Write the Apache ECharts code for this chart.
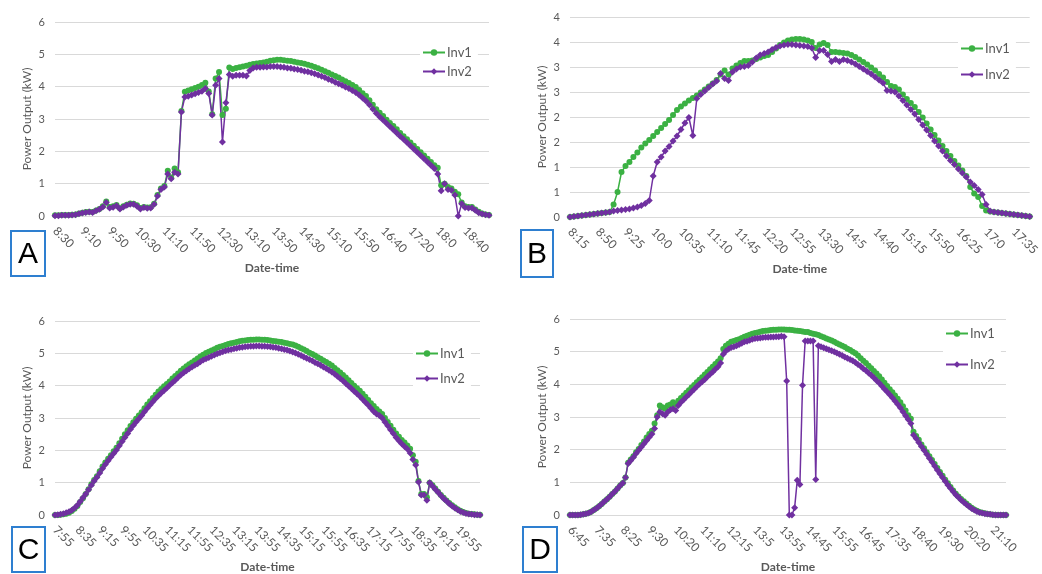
<!DOCTYPE html>
<html>
<head>
<meta charset="utf-8">
<script src="https://cdn.jsdelivr.net/npm/echarts@6/dist/echarts.min.js"></script>
<style>html,body{margin:0;padding:0;background:#fff}#c{width:1042px;height:574px}</style>
</head>
<body>
<div id="c"></div>
<script>
// ---------- tick labels (every N-th category is labelled) ----------
const ticksA = ['8:30','9:10','9:50','10:30','11:10','11:50','12:30','13:10','13:50','14:30','15:10','15:50','16:40','17:20','18:0','18:40'];
const ticksB = ['8:15','8:50','9:25','10:0','10:35','11:10','11:45','12:20','12:55','13:30','14:5','14:40','15:15','15:50','16:25','17:0','17:35'];
const ticksC = ['7:55','8:35','9:15','9:55','10:35','11:15','11:55','12:35','13:15','13:55','14:35','15:15','15:55','16:35','17:15','17:55','18:35','19:15','19:55'];
const ticksD = ['6:45','7:35','8:25','9:30','10:20','11:10','12:15','13:5','13:55','14:45','15:55','16:45','17:35','18:40','19:30','20:20','21:10'];

// ---------- series values (kW) ----------
const inv1A = [0.02,0.02,0.03,0.03,0.03,0.04,0.05,0.08,0.1,0.12,
0.13,0.12,0.17,0.22,0.3,0.45,0.28,0.3,0.34,0.24,
0.3,0.35,0.39,0.38,0.33,0.25,0.28,0.26,0.27,0.38,
0.65,0.85,0.93,1.4,1.18,1.47,1.35,3.25,3.84,3.88,
3.92,3.96,4.0,4.05,4.12,3.85,3.15,4.25,4.45,3.12,
3.32,4.59,4.55,4.58,4.6,4.62,4.65,4.68,4.7,4.72,
4.73,4.75,4.77,4.8,4.82,4.83,4.83,4.82,4.8,4.79,
4.77,4.75,4.73,4.71,4.68,4.65,4.61,4.57,4.52,4.48,
4.43,4.38,4.33,4.28,4.22,4.17,4.11,4.05,3.99,3.9,
3.8,3.71,3.58,3.44,3.3,3.19,3.09,2.98,2.88,2.78,
2.68,2.57,2.47,2.37,2.27,2.17,2.07,1.97,1.87,1.77,
1.67,1.57,1.49,0.95,1.0,0.9,0.85,0.75,0.67,0.42,
0.3,0.28,0.28,0.2,0.13,0.08,0.05,0.03];
const inv2A = [0.01,0.01,0.02,0.02,0.02,0.03,0.04,0.07,0.09,0.11,
0.12,0.11,0.16,0.21,0.28,0.42,0.25,0.27,0.32,0.22,
0.28,0.33,0.36,0.36,0.3,0.22,0.26,0.24,0.25,0.36,
0.62,0.82,0.9,1.3,1.15,1.35,1.3,3.22,3.68,3.7,
3.74,3.78,3.82,3.86,3.94,3.79,3.12,4.04,4.25,2.29,
3.5,4.38,4.32,4.35,4.35,4.35,4.33,4.5,4.58,4.6,
4.6,4.61,4.61,4.62,4.62,4.62,4.61,4.6,4.58,4.57,
4.55,4.53,4.51,4.48,4.46,4.43,4.4,4.36,4.32,4.28,
4.23,4.19,4.14,4.09,4.04,3.99,3.94,3.88,3.82,3.74,
3.65,3.56,3.44,3.31,3.18,3.07,2.97,2.87,2.77,2.67,
2.57,2.47,2.37,2.27,2.17,2.07,1.97,1.87,1.77,1.67,
1.57,1.47,1.3,0.78,1.0,0.82,0.8,0.65,0.0,0.38,
0.26,0.25,0.25,0.18,0.1,0.06,0.04,0.02];

const inv1B = [0.0,0.01,0.02,0.03,0.04,0.05,0.06,0.07,0.08,0.09,
0.1,0.25,0.5,0.9,1.02,1.1,1.2,1.29,1.39,1.47,
1.54,1.62,1.7,1.78,1.86,1.94,2.04,2.14,2.21,2.27,
2.33,2.38,2.43,2.49,2.55,2.61,2.67,2.74,2.85,2.93,
2.85,2.97,3.03,3.08,3.12,3.12,3.13,3.16,3.19,3.22,
3.24,3.3,3.37,3.44,3.49,3.53,3.55,3.56,3.56,3.55,
3.53,3.5,3.38,3.45,3.48,3.44,3.3,3.3,3.29,3.28,
3.27,3.24,3.2,3.15,3.1,3.05,2.99,2.93,2.86,2.79,
2.7,2.62,2.6,2.55,2.45,2.36,2.28,2.2,2.1,1.99,
1.87,1.75,1.64,1.53,1.42,1.32,1.22,1.12,1.03,0.93,
0.82,0.6,0.47,0.4,0.22,0.13,0.11,0.1,0.09,0.08,
0.07,0.06,0.05,0.04,0.03,0.02,0.01];
const inv2B = [0.0,0.01,0.02,0.03,0.04,0.05,0.06,0.07,0.08,0.09,
0.1,0.12,0.13,0.14,0.15,0.16,0.18,0.2,0.23,0.27,
0.33,0.82,1.1,1.2,1.32,1.41,1.52,1.62,1.75,1.88,
1.99,1.63,2.37,2.45,2.52,2.59,2.66,2.72,2.87,2.77,
2.73,2.9,2.96,3.0,3.01,3.03,3.1,3.18,3.24,3.27,
3.3,3.35,3.39,3.42,3.44,3.45,3.45,3.44,3.43,3.42,
3.41,3.38,3.19,3.33,3.33,3.25,3.11,3.15,3.11,3.15,
3.13,3.1,3.06,3.01,2.96,2.91,2.86,2.8,2.74,2.68,
2.53,2.52,2.5,2.42,2.33,2.24,2.15,2.06,1.95,1.84,
1.74,1.63,1.52,1.42,1.32,1.22,1.13,1.05,0.96,0.88,
0.8,0.7,0.63,0.55,0.45,0.25,0.12,0.1,0.09,0.08,
0.07,0.06,0.05,0.04,0.03,0.02,0.01];

const inv1C = [0.0,0.0,0.01,0.02,0.04,0.07,0.12,0.19,0.28,0.4,
0.52,0.65,0.8,0.95,1.08,1.2,1.35,1.5,1.62,1.74,
1.85,1.97,2.08,2.22,2.36,2.5,2.62,2.75,2.87,2.98,
3.08,3.18,3.3,3.42,3.52,3.62,3.72,3.82,3.9,3.98,
4.05,4.13,4.22,4.3,4.38,4.46,4.53,4.6,4.66,4.72,
4.78,4.84,4.9,4.96,5.01,5.05,5.09,5.13,5.17,5.2,
5.23,5.26,5.29,5.31,5.33,5.35,5.37,5.39,5.4,5.41,
5.42,5.42,5.43,5.43,5.42,5.42,5.41,5.4,5.38,5.37,
5.36,5.35,5.33,5.31,5.29,5.27,5.24,5.2,5.16,5.12,
5.07,5.02,4.98,4.93,4.88,4.83,4.78,4.73,4.68,4.62,
4.55,4.48,4.41,4.33,4.25,4.17,4.08,4.0,3.92,3.84,
3.75,3.66,3.56,3.46,3.37,3.28,3.2,3.12,3.0,2.88,
2.76,2.64,2.52,2.42,2.32,2.24,2.15,2.05,1.85,1.65,
1.05,0.65,0.65,0.55,1.0,0.92,0.82,0.72,0.62,0.53,
0.45,0.37,0.3,0.24,0.18,0.13,0.09,0.06,0.04,0.03,
0.02,0.01,0.01];
const inv2C = [0.0,0.01,0.02,0.04,0.07,0.1,0.15,0.22,0.3,0.42,
0.53,0.65,0.78,0.92,1.05,1.17,1.3,1.44,1.56,1.68,
1.79,1.9,2.01,2.14,2.27,2.4,2.52,2.65,2.77,2.88,
2.98,3.08,3.19,3.3,3.4,3.5,3.6,3.69,3.77,3.85,
3.93,4.01,4.09,4.17,4.25,4.33,4.4,4.46,4.52,4.58,
4.63,4.68,4.74,4.79,4.83,4.87,4.91,4.95,4.99,5.02,
5.05,5.08,5.1,5.12,5.14,5.16,5.18,5.19,5.2,5.21,
5.22,5.22,5.23,5.23,5.22,5.22,5.21,5.2,5.19,5.18,
5.16,5.14,5.12,5.1,5.07,5.04,5.01,4.97,4.93,4.89,
4.85,4.81,4.77,4.72,4.68,4.63,4.58,4.53,4.48,4.42,
4.36,4.29,4.22,4.15,4.07,3.99,3.91,3.83,3.75,3.67,
3.58,3.49,3.4,3.3,3.2,3.12,3.08,3.0,2.88,2.76,
2.64,2.52,2.4,2.3,2.2,2.12,2.04,1.92,1.72,1.55,
1.02,0.62,0.62,0.46,1.0,0.9,0.8,0.7,0.6,0.51,
0.43,0.35,0.28,0.22,0.16,0.11,0.08,0.05,0.03,0.02,
0.01,0.01,0.0];

const inv1D = [0.0,0.0,0.0,0.0,0.01,0.02,0.04,0.06,0.1,0.15,
0.21,0.27,0.34,0.41,0.48,0.56,0.64,0.72,0.81,0.9,
0.98,1.15,1.6,1.7,1.8,1.92,2.02,2.14,2.25,2.37,
2.48,2.58,2.8,3.05,3.35,3.3,3.25,3.35,3.38,3.45,
3.38,3.5,3.58,3.66,3.74,3.82,3.9,3.98,4.06,4.14,
4.22,4.3,4.38,4.46,4.54,4.62,4.7,4.8,5.08,5.18,
5.24,5.3,5.33,5.36,5.38,5.42,5.46,5.49,5.52,5.55,
5.57,5.59,5.61,5.63,5.64,5.65,5.66,5.67,5.67,5.68,
5.68,5.68,5.67,5.67,5.66,5.65,5.64,5.63,5.62,5.6,
5.6,5.57,5.55,5.53,5.51,5.47,5.44,5.4,5.37,5.34,
5.3,5.26,5.22,5.18,5.14,5.09,5.05,5.0,4.95,4.88,
4.8,4.72,4.65,4.57,4.49,4.41,4.33,4.25,4.15,4.05,
3.95,3.85,3.76,3.66,3.56,3.45,3.33,3.2,3.05,2.95,
2.55,2.42,2.3,2.16,2.04,1.92,1.8,1.68,1.56,1.44,
1.32,1.2,1.08,0.97,0.86,0.75,0.65,0.57,0.49,0.42,
0.35,0.28,0.22,0.17,0.13,0.09,0.07,0.05,0.03,0.02,
0.01,0.01,0.0,0.0,0.0,0.0];
const inv2D = [0.0,0.0,0.0,0.0,0.01,0.02,0.04,0.06,0.1,0.15,
0.21,0.27,0.34,0.41,0.48,0.56,0.64,0.72,0.81,0.9,
0.98,1.15,1.58,1.67,1.77,1.88,1.98,2.08,2.18,2.28,
2.38,2.48,2.65,3.0,3.15,3.1,3.05,3.15,3.22,3.25,
3.2,3.35,3.45,3.53,3.61,3.69,3.77,3.85,3.93,4.01,
4.08,4.15,4.23,4.31,4.38,4.46,4.54,4.65,4.92,5.02,
5.08,5.13,5.15,5.18,5.22,5.26,5.3,5.32,5.35,5.38,
5.4,5.41,5.42,5.43,5.44,5.44,5.45,5.45,5.46,5.46,
5.47,5.46,4.1,0.0,0.0,0.22,1.06,0.93,3.97,5.33,
5.33,5.33,5.33,1.09,5.18,5.15,5.12,5.09,5.06,5.03,
5.0,4.96,4.92,4.88,4.84,4.8,4.76,4.72,4.67,4.61,
4.55,4.48,4.42,4.35,4.28,4.2,4.12,4.04,3.95,3.86,
3.77,3.68,3.59,3.49,3.39,3.28,3.16,3.04,2.92,2.8,
2.45,2.34,2.22,2.1,1.98,1.86,1.74,1.62,1.5,1.38,
1.26,1.15,1.03,0.92,0.82,0.72,0.62,0.54,0.46,0.39,
0.32,0.26,0.2,0.15,0.11,0.08,0.06,0.04,0.03,0.02,
0.01,0.0,0.0,0.0,0.0,0.0];

// ---------- build 5-minute category labels from the tick labels ----------
function buildCats(ticks, per, total) {
  const out = [];
  const last = ticks.length - 1;
  for (let k = 0; k < ticks.length; k++) {
    const p = ticks[k].split(':').map(Number);
    const n = k < last ? per : total - last * per;
    for (let j = 0; j < n; j++) {
      const t = p[0] * 60 + p[1] + 5 * j;
      out.push(Math.floor(t / 60) + ':' + (t % 60));
    }
  }
  return out;
}
const catsA = buildCats(ticksA, 8, inv1A.length);
const catsB = buildCats(ticksB, 7, inv1B.length);
const catsC = buildCats(ticksC, 8, inv1C.length);
const catsD = buildCats(ticksD, 10, inv1D.length);

const GREEN = '#3BB143', PURPLE = '#7030A0', GREY = '#595959', GRID = '#d9d9d9';
const FONT = 'Lato, "Open Sans", sans-serif';

const grids = [
  {left: 55, top: 22, width: 434, height: 194},
  {left: 570, top: 17, width: 462, height: 200},
  {left: 55, top: 321, width: 425, height: 195},
  {left: 570, top: 319, width: 436, height: 197}
];
const cats = [catsA, catsB, catsC, catsD];
const tickSets = [ticksA, ticksB, ticksC, ticksD];
const per = [8, 7, 8, 10];
const yMax = [6, 4, 6, 6];
const yInt = [1, 0.5, 1, 1];
const v1 = [inv1A, inv1B, inv1C, inv1D];
const v2 = [inv2A, inv2B, inv2C, inv2D];

const xAxis = [], yAxis = [], series = [];
for (let k = 0; k < 4; k++) {
  const step = per[k], lastIdx = (tickSets[k].length - 1) * step;
  xAxis.push({
    type: 'category', gridIndex: k, data: cats[k], boundaryGap: false,
    axisLine: {lineStyle: {color: GRID}}, axisTick: {show: false},
    axisLabel: {interval: (i) => i % step === 0 && i <= lastIdx, rotate: -45, color: GREY, fontSize: 12, fontFamily: FONT, margin: 13},
    name: 'Date-time', nameLocation: 'middle', nameGap: 46,
    nameTextStyle: {color: GREY, fontSize: 12, fontWeight: 'bold', fontFamily: FONT}
  });
  yAxis.push({
    type: 'value', gridIndex: k, min: 0, max: yMax[k], interval: yInt[k],
    axisLine: {show: false}, axisTick: {show: false},
    splitLine: {lineStyle: {color: GRID, width: 1}},
    axisLabel: {color: GREY, fontSize: 11, fontFamily: FONT, margin: 10,
      formatter: v => String(Math.round(v))},
    name: 'Power Output (kW)', nameLocation: 'middle', nameGap: 22,
    nameTextStyle: {color: GREY, fontSize: 12, fontFamily: FONT}
  });
  series.push({
    name: 'Inv1', type: 'line', xAxisIndex: k, yAxisIndex: k, data: v1[k],
    symbol: 'circle', symbolSize: 6, showAllSymbol: true,
    lineStyle: {width: 1.5, color: GREEN}, itemStyle: {color: GREEN}
  });
  series.push({
    name: 'Inv2', type: 'line', xAxisIndex: k, yAxisIndex: k, data: v2[k],
    symbol: 'diamond', symbolSize: 7, showAllSymbol: true,
    lineStyle: {width: 1.5, color: PURPLE}, itemStyle: {color: PURPLE}
  });
}

function legendAt(left, top, gap) {
  return {
    data: ['Inv1', 'Inv2'], orient: 'vertical', left: left, top: top,
    itemWidth: 22, itemHeight: 8, itemGap: gap, padding: [4, 6, 4, 2],
    backgroundColor: '#fff',
    textStyle: {color: GREY, fontSize: 13, fontFamily: FONT, padding: [0, 0, 0, -3]}
  };
}

function letterBox(x, y, w, h, t) {
  return [
    {type: 'rect', shape: {x: x, y: y, width: w, height: h}, style: {fill: '#fff', stroke: '#2E7FD0', lineWidth: 2}, z: 100},
    {type: 'text', x: x + w / 2, y: y + h / 2 + 1, style: {text: t, fill: '#000', fontSize: 30, fontFamily: 'Liberation Sans, Arial, sans-serif', align: 'center', verticalAlign: 'middle'}, z: 101}
  ];
}

const chart = echarts.init(document.getElementById('c'));
chart.setOption({
  animation: false,
  backgroundColor: '#fff',
  textStyle: {fontFamily: FONT},
  grid: grids,
  xAxis: xAxis,
  yAxis: yAxis,
  legend: [legendAt(420, 42, 6), legendAt(958, 38, 13), legendAt(413, 343, 12), legendAt(943, 323, 18)],
  series: series,
  graphic: [].concat(
    letterBox(11, 231, 34, 45, 'A'),
    letterBox(521, 230, 32, 47, 'B'),
    letterBox(12, 527, 33, 45, 'C'),
    letterBox(523, 527, 34, 45, 'D')
  )
});
</script>
</body>
</html>
